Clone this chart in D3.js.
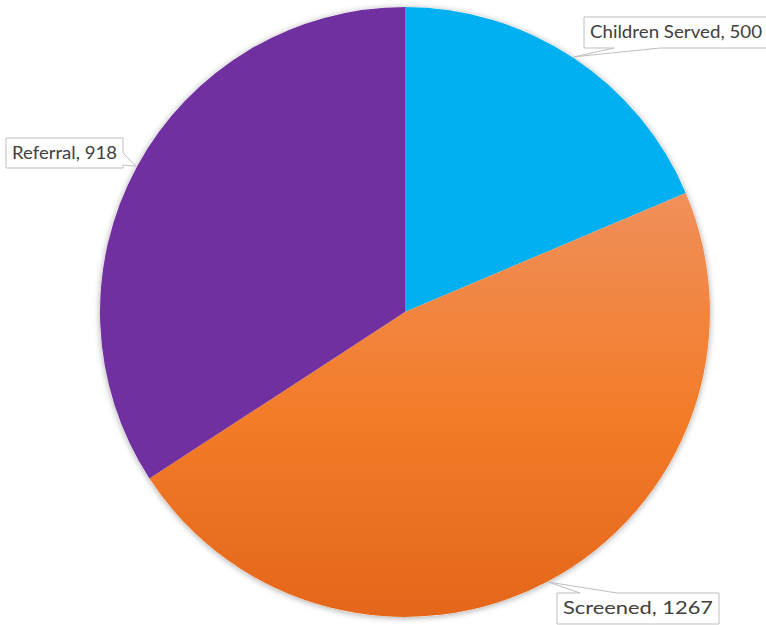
<!DOCTYPE html>
<html><head><meta charset="utf-8">
<script src="https://cdn.jsdelivr.net/npm/d3@7"></script>
<style>body{margin:0;background:#fff;} svg{display:block;}</style>
</head><body>
<script>
const categories = ["Children Served", "Screened", "Referral"];
const values = [500, 1267, 918];
const colors = ["#00B0F0", "url(#orangeGrad)", "#7030A0"];
// label callout boxes [x, y, w, h] and side of pointer
const labelBoxes = [[584, 17, 184, 31, "bottom"], [557, 593, 162, 31, "top"], [6, 138, 117, 30, "right"]];

const W = 766, H = 625, cx = 405, cy = 312, R = 305;
const svg = d3.select("body").append("svg").attr("width", W).attr("height", H);
const defs = svg.append("defs");
const g1 = defs.append("linearGradient").attr("id", "orangeGrad")
  .attr("gradientUnits", "userSpaceOnUse").attr("x1", 0).attr("y1", -R).attr("x2", 0).attr("y2", R);
g1.append("stop").attr("offset", "0").attr("stop-color", "#F2A47C");
g1.append("stop").attr("offset", "0.37").attr("stop-color", "#F08C52");
g1.append("stop").attr("offset", "0.67").attr("stop-color", "#F37C28");
g1.append("stop").attr("offset", "1").attr("stop-color", "#E4661A");
const f = defs.append("filter").attr("id", "sh").attr("x", "-10%").attr("y", "-10%").attr("width", "120%").attr("height", "120%");
f.append("feDropShadow").attr("dx", 0).attr("dy", 1).attr("stdDeviation", 3).attr("flood-color", "#000").attr("flood-opacity", 0.35);

const pie = d3.pie().sort(null).value(d => d)(values);
const arc = d3.arc().innerRadius(0).outerRadius(R);
const tipArc = d3.arc().innerRadius(R + 1).outerRadius(R + 1);
const gp = svg.append("g").attr("transform", `translate(${cx},${cy})`);
gp.append("circle").attr("r", R).attr("fill", "#fff").attr("filter", "url(#sh)");
gp.selectAll("path.slice").data(pie).enter().append("path").attr("class", "slice")
  .attr("d", arc).attr("fill", (d, i) => colors[i]);

const lg = svg.append("g");
pie.forEach((d, i) => {
  const [bx, by, bw, bh, side] = labelBoxes[i];
  const c = tipArc.centroid(d);
  const tx = c[0] + cx, ty = c[1] + cy;
  let p;
  if (side === "bottom") {
    p = `M${bx},${by}H${bx+bw}V${by+bh}H${bx+76}L${tx},${ty}L${bx+30},${by+bh}H${bx}Z`;
  } else if (side === "top") {
    p = `M${bx},${by}H${bx+23}L${tx},${ty}L${bx+60},${by}H${bx+bw}V${by+bh}H${bx}Z`;
  } else {
    p = `M${bx},${by}H${bx+bw}V${by+15}L${tx},${ty}L${bx+bw},${by+bh-3}V${by+bh}H${bx}Z`;
  }
  lg.append("path").attr("d", p).attr("fill", "#fff").attr("stroke", "#BFBFBF").attr("stroke-width", 1);
  lg.append("text").attr("x", bx + 6).attr("y", by + bh / 2 + 1)
    .attr("dominant-baseline", "middle")
    .attr("font-family", "Lato, 'Open Sans', sans-serif").attr("font-size", 18).attr("fill", "#404040")
    .attr("textLength", bw - 12).attr("lengthAdjust", "spacingAndGlyphs")
    .text(`${categories[i]}, ${values[i]}`);
});
</script>
</body></html>
